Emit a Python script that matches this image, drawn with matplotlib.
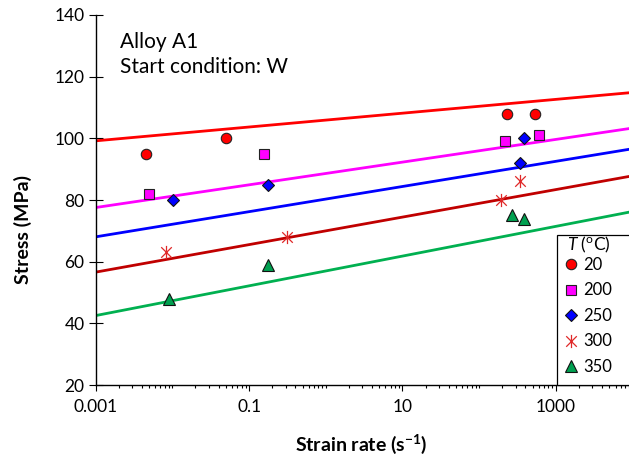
import numpy as np
import matplotlib.pyplot as plt
from matplotlib.lines import Line2D
from matplotlib.patches import Rectangle
from matplotlib.path import Path
from matplotlib.ticker import FixedLocator, LogLocator, NullFormatter, FixedFormatter

plt.rcParams['font.family'] = ['Lato', 'DejaVu Sans']
plt.rcParams['mathtext.fontset'] = 'custom'
plt.rcParams['mathtext.rm'] = 'Lato'
plt.rcParams['mathtext.it'] = 'Lato:italic'
plt.rcParams['mathtext.bf'] = 'Lato:bold'

# measured points, one list per temperature
temps = ['20', '200', '250', '300', '350']
rate_20 = [0.0045, 0.05, 230, 530]
stress_20 = [95, 100, 108, 108]
rate_200 = [0.005, 0.156, 217, 608]
stress_200 = [82, 95, 99, 101]
rate_250 = [0.0103, 0.178, 340, 387]
stress_250 = [80, 85, 92, 100]
rate_300 = [0.0082, 0.31, 191, 340]
stress_300 = [63, 68, 80, 86]
rate_350 = [0.009, 0.178, 270, 387]
stress_350 = [48, 59, 75, 74]

# fitted lines: stress = intercept + slope * log10(rate)
fit_intercept = [105.9, 88.6, 80.3, 70.0, 57.0]
fit_slope = [2.24, 3.68, 4.08, 4.46, 4.82]

rates = [rate_20, rate_200, rate_250, rate_300, rate_350]
stresses = [stress_20, stress_200, stress_250, stress_300, stress_350]

# excel style asterisk: an X with a vertical bar
star = Path([(-0.8, -0.8), (0.8, 0.8), (-0.8, 0.8), (0.8, -0.8), (0, -1), (0, 1)],
            [Path.MOVETO, Path.LINETO] * 3)

line_colors = ['#ff0000', '#ff00ff', '#0000ff', '#c00000', '#00b050']
markers = [
    dict(marker='o', ms=7.5, mfc='#ff0000', mec='#222222', mew=0.8),
    dict(marker='s', ms=6.8, mfc='#ff00ff', mec='#222222', mew=0.8),
    dict(marker='D', ms=6.5, mfc='#0000ff', mec='#111111', mew=0.8),
    dict(marker=star, ms=9.5, mfc='none', mec='#e02828', mew=0.9),
    dict(marker='^', ms=8.5, mfc='#00a050', mec='#111111', mew=0.8),
]

fig = plt.figure(figsize=(6.29, 4.57), dpi=100)
ax = fig.add_axes([0.1521, 0.1573, 0.8536, 0.8101])
ax.set_xscale('log')
ax.set_xlim(1e-3, 1e4)
ax.set_ylim(20, 140)

xline = np.array([1e-3, 1e4])
for a, b, c in zip(fit_intercept, fit_slope, line_colors):
    ax.plot(xline, a + b * np.log10(xline), color=c, lw=2.0, zorder=2)

handles = []
for r, s, m, t in zip(rates, stresses, markers, temps):
    ax.plot(r, s, ls='none', zorder=3, **m)
    handles.append(Line2D([], [], ls='none', label=t, **m))

# axes styling
for side in ['top', 'right']:
    ax.spines[side].set_visible(False)
for side in ['left', 'bottom']:
    ax.spines[side].set_linewidth(1.0)

ax.yaxis.set_major_locator(FixedLocator(np.arange(20, 141, 20)))
ax.xaxis.set_major_locator(FixedLocator([1e-3, 1e-1, 1e1, 1e3]))
ax.xaxis.set_major_formatter(FixedFormatter(['0.001', '0.1', '10', '1000']))
ax.xaxis.set_minor_locator(LogLocator(base=10, subs=np.arange(1, 10), numticks=30))
ax.xaxis.set_minor_formatter(NullFormatter())
ax.tick_params(axis='y', which='major', direction='inout', length=10, width=0.8,
               labelsize=12.5, pad=3)
ax.tick_params(axis='x', which='major', direction='out', length=4, width=0.8,
               labelsize=12.5, pad=6)
ax.tick_params(axis='x', which='minor', direction='out', length=2.5, width=0.8)

ax.set_ylabel('Stress (MPa)', fontsize=14, fontweight='bold')
ax.yaxis.set_label_coords(-0.1186, 0.42)
ax.set_xlabel(r'Strain rate (s$^{\mathbf{-1}}$)', fontsize=14, fontweight='bold')
ax.xaxis.set_label_coords(0.494, -0.129)

ax.text(0.045, 0.91, 'Alloy A1', transform=ax.transAxes, fontsize=15,
        va='baseline', ha='left')
ax.text(0.045, 0.842, 'Start condition: W', transform=ax.transAxes, fontsize=15,
        va='baseline', ha='left')

# legend box that runs off the right edge
ax.add_patch(Rectangle((0.8596, 0.0), 0.3, 0.4055, transform=ax.transAxes,
                       fill=True, fc='white', ec='black', lw=0.9, clip_on=False, zorder=4))
ax.text(0.877, 0.378, r'$\it{T}$ ($^{\rm o}$C)', transform=ax.transAxes,
        fontsize=12.5, va='center', ha='left', zorder=6)
leg = ax.legend(handles=handles, loc='upper left',
                bbox_to_anchor=(0.8596, 0.36), borderaxespad=0, frameon=False,
                fontsize=12, handlelength=1.0,
                handletextpad=0.25, labelspacing=0.57, borderpad=0.3)
leg.set_zorder(5)

fig.savefig('out.png', dpi=100)
